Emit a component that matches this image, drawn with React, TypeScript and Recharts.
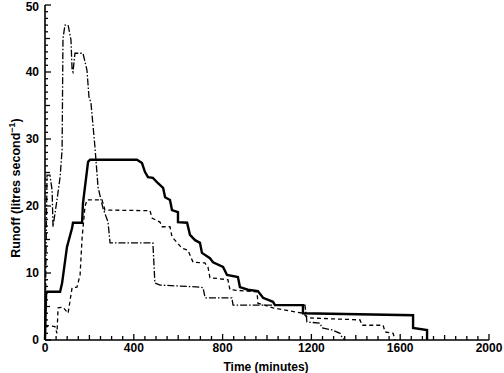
import React from 'react'
import { LineChart, Line, XAxis, YAxis } from 'recharts'

// thick solid hydrograph
const thickTime = [0, 5, 68, 77, 99, 122, 126, 167, 171, 194, 203, 414, 437, 450, 464, 486, 509, 532, 541, 563, 572, 599, 599, 640, 653, 676, 698, 707, 743, 757, 802, 820, 869, 878, 914, 959, 982, 1027, 1036, 1162, 1162, 1658, 1658, 1721, 1721]
const thickRunoff = [0, 7.2, 7.2, 8.5, 13.9, 16.7, 17.5, 17.5, 20.4, 26.6, 26.9, 26.9, 26.4, 25.1, 24.3, 24.2, 23.4, 22.7, 21.3, 20.9, 19.4, 19.1, 17.6, 17.5, 15.7, 14.9, 14.5, 13.0, 12.2, 11.6, 10.9, 9.7, 9.4, 7.9, 7.5, 7.3, 6.3, 5.7, 5.2, 5.2, 4.0, 3.7, 1.8, 1.5, 0]

// dashed hydrograph
const dashedTime = [0, 45, 54, 59, 81, 104, 122, 144, 158, 167, 180, 189, 257, 270, 473, 482, 518, 527, 563, 572, 617, 644, 667, 720, 734, 743, 824, 833, 910, 955, 959, 1027, 1162, 1185, 1419, 1428, 1523, 1532, 1568, 1577]
const dashedRunoff = [2.2, 2.0, 1.0, 4.8, 4.9, 4.0, 7.8, 7.9, 9.7, 15.2, 19.9, 20.9, 20.9, 19.4, 19.3, 18.2, 17.6, 16.9, 16.9, 15.4, 13.7, 13.4, 11.6, 11.5, 10.9, 9.3, 9.0, 7.5, 7.3, 7.2, 5.5, 4.8, 4.0, 3.3, 3.0, 2.2, 2.2, 1.2, 1.0, 0]

// dash-dot hydrograph
const dotDashTime = [0, 9, 22, 32, 36, 54, 68, 77, 81, 90, 104, 117, 122, 126, 135, 171, 189, 198, 207, 225, 239, 261, 284, 293, 486, 495, 518, 698, 712, 721, 842, 847, 1171, 1180, 1239, 1248, 1293, 1329, 1338, 1351]
const dotDashRunoff = [0, 24.6, 24.6, 22.4, 16.9, 20.9, 24.3, 28.4, 45, 47, 47, 44.8, 40.3, 40, 42.8, 42.8, 40.3, 36.3, 35.4, 28.8, 22.8, 19.7, 17.6, 14.5, 14.5, 8.5, 8.2, 7.9, 7.8, 6.3, 6.3, 5.2, 5.2, 2.7, 2.5, 1.8, 1.5, 1.0, 0.4, 0]

const xTicks = Array.from({ length: 41 }, (_, i) => i * 50)
const yTicks = Array.from({ length: 51 }, (_, i) => i)

const toPoints = (t: number[], q: number[]) => t.map((v, i) => ({ t: v, q: q[i] }))

const font = '"Liberation Sans", Arial, sans-serif'

const XTick = (props: any) => {
    const { x, y, payload } = props
    const v = payload.value
    const major = v % 400 === 0
    const mid = v % 200 === 0
    return (
        <g>
            <line x1={x} x2={x} y1={y} y2={y - (major ? 6 : mid ? 5 : 4)} stroke="#000" strokeWidth={1.3} />
            {major && (
                <text x={x} y={y + 12} textAnchor="middle" fontFamily={font} fontWeight={700} fontSize={12} fill="#000">
                    {v}
                </text>
            )}
        </g>
    )
}

const YTick = (props: any) => {
    const { x, y, payload } = props
    const v = payload.value
    const major = v % 10 === 0
    const mid = v % 5 === 0
    return (
        <g>
            <line x1={x} x2={x + (major ? 6 : mid ? 5 : 3)} y1={y} y2={y} stroke="#000" strokeWidth={1.3} />
            {major && (
                <text x={x - 6} y={y + (v === 50 ? 6 : 4)} textAnchor="end" fontFamily={font} fontWeight={700} fontSize={12} fill="#000">
                    {v}
                </text>
            )}
        </g>
    )
}

export default function App() {
    return (
        <div style={{ position: 'absolute', left: 0, top: 0, width: 504, height: 373, background: '#fff' }}>
            <LineChart width={504} height={373} margin={{ top: 5, right: 15, left: 0, bottom: 0 }}>
                <XAxis
                    type="number"
                    dataKey="t"
                    domain={[0, 2000]}
                    ticks={xTicks}
                    interval={0}
                    tick={<XTick />}
                    tickLine={false}
                    tickSize={0}
                    tickMargin={0}
                    height={33}
                    axisLine={{ stroke: '#000', strokeWidth: 1.6 }}
                />
                <YAxis
                    type="number"
                    domain={[0, 50]}
                    ticks={yTicks}
                    interval={0}
                    tick={<YTick />}
                    tickLine={false}
                    tickSize={0}
                    tickMargin={0}
                    width={45}
                    axisLine={{ stroke: '#000', strokeWidth: 1.6 }}
                />
                <Line
                    data={toPoints(dotDashTime, dotDashRunoff)}
                    dataKey="q"
                    type="linear"
                    stroke="#000"
                    strokeWidth={1.3}
                    strokeDasharray="7 2 1.5 2"
                    dot={false}
                    isAnimationActive={false}
                />
                <Line
                    data={toPoints(dashedTime, dashedRunoff)}
                    dataKey="q"
                    type="linear"
                    stroke="#000"
                    strokeWidth={1.3}
                    strokeDasharray="4 3"
                    dot={false}
                    isAnimationActive={false}
                />
                <Line
                    data={toPoints(thickTime, thickRunoff)}
                    dataKey="q"
                    type="linear"
                    stroke="#000"
                    strokeWidth={2.4}
                    dot={false}
                    isAnimationActive={false}
                />
            </LineChart>
            <svg width={504} height={373} style={{ position: 'absolute', left: 0, top: 0, pointerEvents: 'none' }}>
                <text
                    transform="translate(20,188) rotate(-90)"
                    textAnchor="middle"
                    fontFamily={font}
                    fontWeight={700}
                    fontSize={12.5}
                    fill="#000"
                >
                    Runoff  (litres second<tspan dy={-5} fontSize={9}>−1</tspan>
                    <tspan dy={5}>)</tspan>
                </text>
                <text x={266} y={371} textAnchor="middle" fontFamily={font} fontWeight={700} fontSize={12} fill="#000">
                    Time  (minutes)
                </text>
            </svg>
        </div>
    )
}
